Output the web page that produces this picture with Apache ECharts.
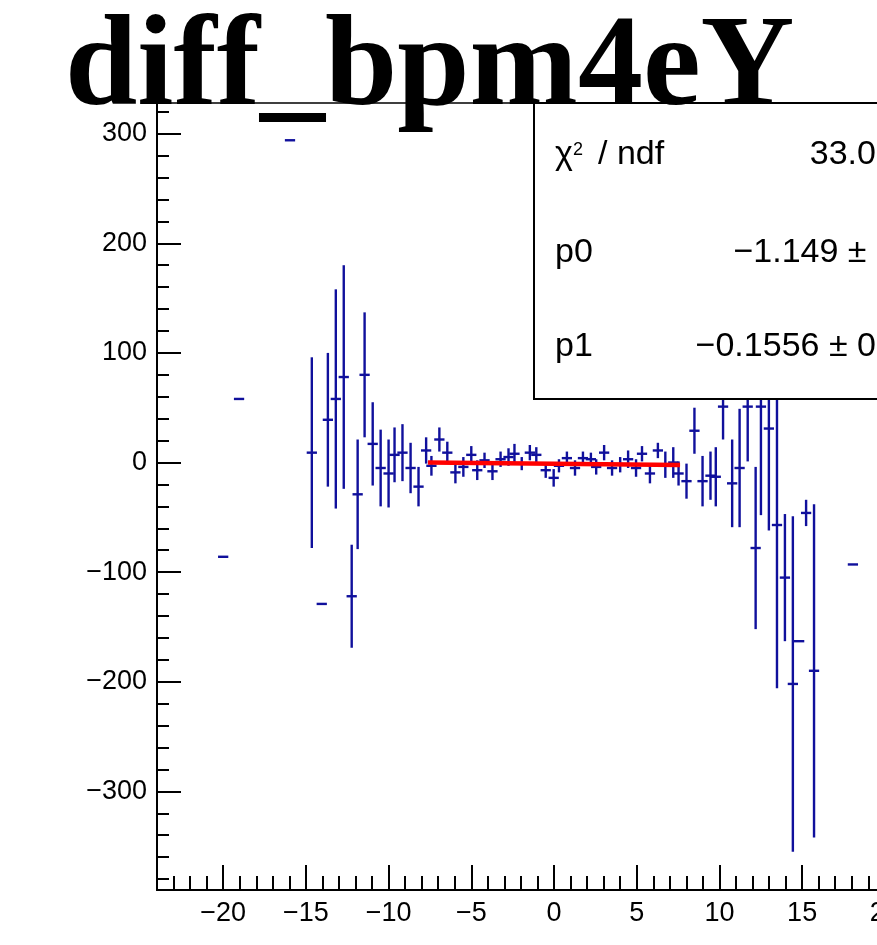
<!DOCTYPE html>
<html>
<head>
<meta charset="utf-8">
<script src="https://cdn.jsdelivr.net/npm/echarts@6/dist/echarts.min.js"></script>
<style>
html,body{margin:0;padding:0;background:#fff;overflow:hidden;width:877px;height:945px;}
#chart{width:1000px;height:945px;}
</style>
</head>
<body>
<div id="chart"></div>
<script>
// ---- data ----
const xCenters = [-20.0, -19.04, -15.96, -14.64, -14.04, -13.67, -13.19, -12.71, -12.23, -11.87,
  -11.45, -10.96, -10.48, -10.0, -9.64, -9.16, -8.67, -8.19, -7.73, -7.41,
  -6.93, -6.45, -5.96, -5.48, -5.0, -4.64, -4.2, -3.72, -3.23, -2.75,
  -2.39, -1.95, -1.46, -1.07, -0.5, -0.02, 0.3, 0.78, 1.27, 1.75,
  2.23, 2.55, 3.03, 3.51, 4.0, 4.48, 4.96, 5.32, 5.8, 6.28,
  6.73, 7.21, 7.53, 8.01, 8.49, 8.98, 9.46, 9.78, 10.22, 10.77,
  11.22, 11.71, 12.19, 12.51, 12.99, 13.48, 13.96, 14.44, 14.82, 15.24,
  15.72, 18.07];
const yValues = [-86, 58, 294, 9, -129, 39, 58, 78, -122, -29,
  80, 17, -5, -10, 7, 9, -5, -22, 11, -3,
  21, 9, -9, -4, 7, -7, 2, -8, 3, 5,
  8, -1, 9, 7, -7, -14, -3, 4, -5, 4,
  3, -4, 9, -5, -2, 3, -5, 8, -10, 11,
  -2, 0, -10, -17, 29, -17, -12, -13, 51, -19,
  -5, 51, -78, 51, 31, -57, -105, -202, -163, -46,
  -190, -93];
const yErrors = [0, 0, 0, 87, 0, 61, 100, 102, 47, 50,
  57, 38, 35, 31, 25, 26, 23, 18, 12, 9,
  11, 10, 10, 9, 8, 9, 7, 8, 7, 8,
  9, 6, 7, 7, 7, 8, 6, 6, 7, 6,
  6, 7, 7, 7, 7, 8, 8, 7, 9, 7,
  12, 14, 11, 16, 21, 23, 22, 27, 30, 40,
  54, 50, 74, 99, 93, 149, 58, 153, 0, 12,
  152, 0];

const fitP0 = -1.149;
const fitP1 = -0.1556;
const fitRange = [-7.62, 7.62];

const xMajorTicks = [-20, -15, -10, -5, 0, 5, 10, 15, 20];
const xMinorTicks = [-23,-22,-21,-19,-18,-17,-16,-14,-13,-12,-11,-9,-8,-7,-6,-4,-3,-2,-1,1,2,3,4,6,7,8,9,11,12,13,14,16,17,18,19,21,22,23];
const yMajorTicks = [-300, -200, -100, 0, 100, 200, 300];
const yMinorTicks = [-380,-360,-340,-320,-280,-260,-240,-220,-180,-160,-140,-120,-80,-60,-40,-20,20,40,60,80,120,140,160,180,220,240,260,280,320];

const titleText = 'diff_bpm4eY';
const statsLabels = ['p0', 'p1'];
const statsValues = ['33.03 / 29', '\u22121.149 \u00b1 1.512', '\u22120.1556 \u00b1 0.3341'];

// ---- chart ----
const chart = echarts.init(document.getElementById('chart'), null, {renderer: 'canvas'});
const points = xCenters.map((x, i) => [x, yValues[i], yErrors[i]]);
const fitLine = fitRange.map(x => [x, fitP0 + fitP1 * x]);
const minusFmt = v => (v < 0 ? '\u2212' + Math.abs(v) : String(v));
const blue = '#10109c';
const SANS = '"Liberation Sans", Arial, sans-serif';
const gridRect = {left: 157, top: 103, width: 794, height: 787};
const tickStyle = {color: '#000', width: 2};

const option = {
  backgroundColor: '#fff',
  animation: false,
  grid: [
    Object.assign({show: true, borderColor: '#000', borderWidth: 1.5, backgroundColor: 'transparent'}, gridRect),
    Object.assign({show: false}, gridRect)
  ],
  xAxis: [
    {
      type: 'value', gridIndex: 0, min: -24, max: 24, position: 'bottom',
      axisLine: {show: true, onZero: false, lineStyle: tickStyle},
      axisTick: {show: true, inside: true, length: 14, customValues: xMinorTicks, lineStyle: tickStyle},
      axisLabel: {show: true, customValues: xMajorTicks, formatter: minusFmt, color: '#000', fontSize: 27, fontFamily: SANS, margin: 10},
      splitLine: {show: false}
    },
    {
      type: 'value', gridIndex: 1, min: -24, max: 24, position: 'bottom',
      axisLine: {show: false, onZero: false},
      axisTick: {show: true, inside: true, length: 25, customValues: xMajorTicks, lineStyle: tickStyle},
      axisLabel: {show: false},
      splitLine: {show: false}
    }
  ],
  yAxis: [
    {
      type: 'value', gridIndex: 0, min: -390, max: 328, position: 'left',
      axisLine: {show: true, onZero: false, lineStyle: tickStyle},
      axisTick: {show: true, inside: true, length: 12, customValues: yMinorTicks, lineStyle: tickStyle},
      axisLabel: {show: true, customValues: yMajorTicks, formatter: minusFmt, color: '#000', fontSize: 27, fontFamily: SANS, margin: 10},
      splitLine: {show: false}
    },
    {
      type: 'value', gridIndex: 1, min: -390, max: 328, position: 'left',
      axisLine: {show: false, onZero: false},
      axisTick: {show: true, inside: true, length: 24, customValues: yMajorTicks, lineStyle: tickStyle},
      axisLabel: {show: false},
      splitLine: {show: false}
    }
  ],
  series: [
    {
      type: 'custom', xAxisIndex: 0, yAxisIndex: 0, data: points, z: 3,
      dimensions: ['x', 'y', 'err'], encode: {x: 0, y: 1},
      renderItem: function (params, api) {
        const x = api.value(0), y = api.value(1), e = api.value(2);
        const c = api.coord([x, y]);
        const l = api.coord([x - 0.31, y]);
        const r = api.coord([x + 0.31, y]);
        const st = {stroke: blue, lineWidth: 2.4, fill: null};
        const children = [{type: 'line', shape: {x1: l[0], y1: c[1], x2: r[0], y2: c[1]}, style: st}];
        if (e > 0) {
          const t = api.coord([x, y + e]);
          const b = api.coord([x, y - e]);
          children.push({type: 'line', shape: {x1: c[0], y1: t[1], x2: c[0], y2: b[1]}, style: st});
        }
        return {type: 'group', children: children};
      }
    },
    {
      type: 'line', xAxisIndex: 0, yAxisIndex: 0, data: fitLine, z: 5,
      showSymbol: false, symbol: 'none',
      lineStyle: {color: '#ff0000', width: 4.5}
    }
  ],
  graphic: [
    {
      type: 'rect', z: 100, shape: {x: 534, y: 103, width: 440, height: 296},
      style: {fill: '#fff', stroke: '#000', lineWidth: 2}
    },
    {type: 'text', z: 101, x: 555, y: 155, style: {text: '\u03c7', font: '34px ' + SANS, fill: '#000', verticalAlign: 'middle', align: 'left'}},
    {type: 'text', z: 101, x: 573, y: 150, style: {text: '2', font: '18px ' + SANS, fill: '#000', verticalAlign: 'middle', align: 'left'}},
    {type: 'text', z: 101, x: 598, y: 155, style: {text: '/ ndf', font: '34px ' + SANS, fill: '#000', verticalAlign: 'middle', align: 'left'}},
    {type: 'text', z: 101, x: 555, y: 253, style: {text: statsLabels[0], font: '34px ' + SANS, fill: '#000', verticalAlign: 'middle', align: 'left'}},
    {type: 'text', z: 101, x: 555, y: 347, style: {text: statsLabels[1], font: '34px ' + SANS, fill: '#000', verticalAlign: 'middle', align: 'left'}},
    {type: 'text', z: 101, x: 961, y: 155, style: {text: statsValues[0], font: '34px ' + SANS, fill: '#000', verticalAlign: 'middle', align: 'right'}},
    {type: 'text', z: 101, x: 961, y: 253, style: {text: statsValues[1], font: '34px ' + SANS, fill: '#000', verticalAlign: 'middle', align: 'right'}},
    {type: 'text', z: 101, x: 961, y: 347, style: {text: statsValues[2], font: '34px ' + SANS, fill: '#000', verticalAlign: 'middle', align: 'right'}},
    {type: 'text', z: 110, x: 65, y: 70, style: {text: titleText, font: 'bold 130px "Liberation Serif", "Times New Roman", serif', fill: '#000', verticalAlign: 'middle', align: 'left'}}
  ]
};
chart.setOption(option);
</script>
</body>
</html>
